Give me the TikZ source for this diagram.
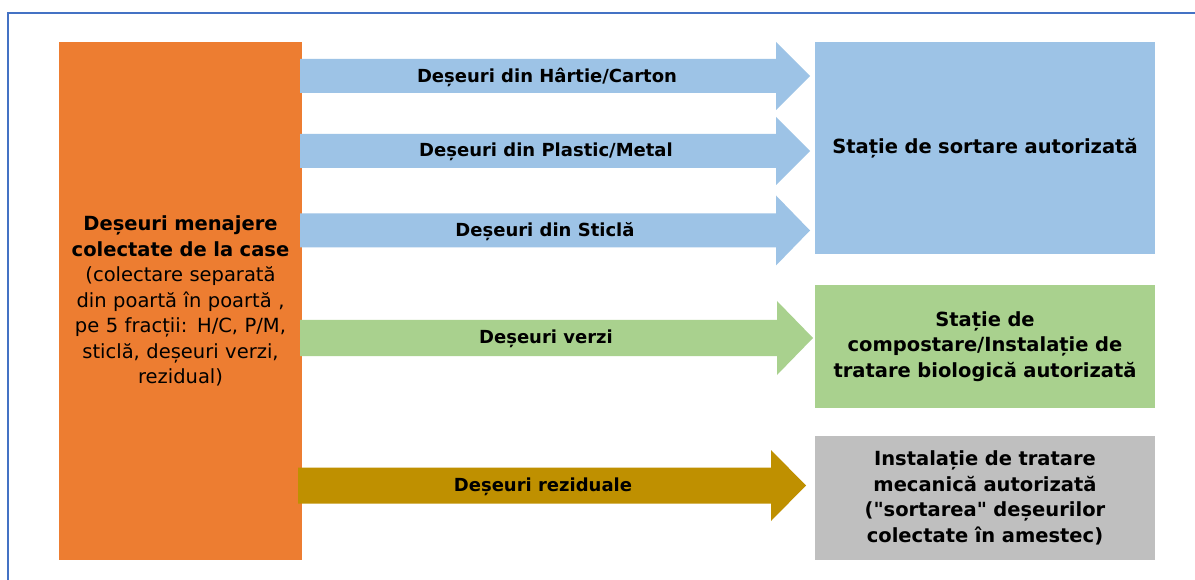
\documentclass[tikz,border=0pt]{standalone}
\usepackage{fontspec}
\setmainfont{DejaVu Sans}[Ligatures=TeXOff]
\definecolor{frameblue}{HTML}{4472C4}
\definecolor{srcorange}{HTML}{ED7D31}
\definecolor{paperblue}{HTML}{9DC3E6}
\definecolor{greenwaste}{HTML}{A9D18E}
\definecolor{residgold}{HTML}{BF9000}
\definecolor{mechgray}{HTML}{BFBFBF}
% block arrow: start x, head base x, tip x, centre y, shaft half, head half, colour
\newcommand\flowarrow[7]{%
  \fill[#7] (#1,#4-#5) -- (#2,#4-#5) -- (#2,#4-#6) -- (#3,#4)
    -- (#2,#4+#6) -- (#2,#4+#5) -- (#1,#4+#5) -- cycle;}
\begin{document}
\begin{tikzpicture}[x=1pt,y=-1pt,
  box/.style={rectangle, inner sep=0pt, align=center, text=black},
  boxtext/.style={font=\fontsize{19.5}{25.5}\selectfont},
  boldbox/.style={font=\fontsize{19.5}{25.5}\selectfont\bfseries},
  flowlabel/.style={inner sep=0pt, text=black, font=\fontsize{18}{22}\selectfont\bfseries}]
\useasboundingbox (0,0) rectangle (1195,580);
\fill[white] (0,0) rectangle (1195,580);
% frame
\draw[frameblue, line width=1.8pt] (8,580) -- (8,13) -- (1195,13);
% source box
\node[box, boxtext, fill=srcorange, minimum width=243pt, minimum height=518pt, text width=240pt]
  (src) at (180.5,301)
  {\textbf{Deșeuri menajere}\\\textbf{colectate de la case}\\(colectare separată\\din poartă în poartă ,\\pe 5 fracții: H/C, P/M,\\sticlă, deșeuri verzi,\\rezidual)};
% destination boxes
\node[box, boldbox, fill=paperblue, minimum width=340pt, minimum height=212pt, text width=336pt]
  (sort) at (985,148) {Stație de sortare autorizată};
\node[box, boldbox, fill=greenwaste, minimum width=340pt, minimum height=123pt, text width=336pt]
  (comp) at (985,346.5) {Stație de\\compostare/Instalație de\\tratare biologică autorizată};
\node[box, boldbox, fill=mechgray, minimum width=340pt, minimum height=124pt, text width=336pt]
  (tmb) at (985,498) {Instalație de tratare\\mecanică autorizată\\("sortarea" deșeurilor\\colectate în amestec)};
% flows
\flowarrow{300}{776}{810}{76}{17}{34}{paperblue}
\flowarrow{300}{776}{810}{151}{17}{34}{paperblue}
\flowarrow{300}{776}{810}{230.5}{17}{35}{paperblue}
\flowarrow{300}{777}{813}{338}{18}{37}{greenwaste}
\flowarrow{298}{771}{806}{485.5}{18}{35.5}{residgold}
\node[flowlabel] (fhc) at (547,77) {Deșeuri din Hârtie/Carton};
\node[flowlabel] (fpm) at (546,152) {Deșeuri din Plastic/Metal};
\node[flowlabel] (fst) at (545,231.5) {Deșeuri din Sticlă};
\node[flowlabel] (fvz) at (546,339) {Deșeuri verzi};
\node[flowlabel] (frz) at (543,486.5) {Deșeuri reziduale};
\end{tikzpicture}
\end{document}
